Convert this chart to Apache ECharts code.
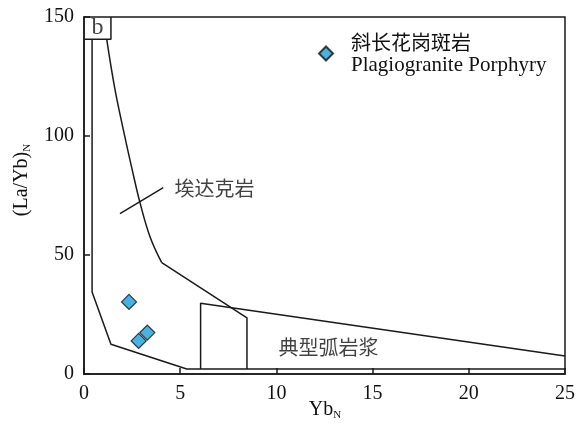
<!DOCTYPE html>
<html>
<head>
<meta charset="utf-8">
<script src="https://cdn.jsdelivr.net/npm/echarts@6/dist/echarts.min.js"></script>
<style>html,body{margin:0;padding:0;background:#fff}#c{width:581px;height:426px}</style>
</head>
<body>
<div id="c"></div>
<script>
// Sample data: Yb_N, (La/Yb)_N
var sampleName = '斜长花岗斑岩';
var sampleNameEn = 'Plagiogranite Porphyry';
var samples = [[2.34, 30.3], [2.84, 13.9], [3.29, 17.4]];

// Field boundaries (data coordinates)
var adakiteOuter = [[0.42, 140.7], [0.42, 34.5], [1.40, 12.5], [5.34, 2.1], [25, 2.1]];
var adakiteCurve = [[1.18, 140.7], [1.6, 120], [2.04, 102.8], [2.5, 86], [2.91, 72], [3.43, 57.7], [4.04, 46.8]];
var adakiteLower = [[4.04, 46.8], [8.47, 23.6], [8.47, 2.1]];
var arcField = [[6.06, 2.1], [6.06, 29.7], [25, 7.6]];
var labelBox = [[0, 140.7], [1.4, 140.7], [1.4, 150]];
var pointerLine = [[1.87, 67.4], [4.12, 78.3]];

// Field labels
var fieldLabels = [
  { name: '埃达克岩', value: [6.78, 78.0] },
  { name: '典型弧岩浆', value: [12.71, 11.2] }
];
var panelLabel = { name: 'b', value: [0.70, 145.4] };

// Axis titles
var xTitle = '{m|Yb}{s|N}';
var yTitle = '{m|(La/Yb)}{s|N}';

var xTicks = { min: 0, max: 25, interval: 5 };
var yTicks = { min: 0, max: 150, interval: 50 };

var serif = '"Liberation Serif", "Times New Roman", serif';
var cjk = '"Noto Sans CJK SC", sans-serif';
var lineCol = '#1a1a1a';

function lineSeries(data, smooth) {
  return {
    type: 'line', data: data, symbol: 'none', silent: true, smooth: smooth || false,
    lineStyle: { color: lineCol, width: 1.5 }, z: 2, animation: false
  };
}
var titleRich = {
  m: { fontFamily: serif, fontSize: 20, fill: '#111' },
  s: { fontFamily: serif, fontSize: 11, fill: '#111', verticalAlign: 'bottom', padding: [10, 0, 0, 0] }
};

var chart = echarts.init(document.getElementById('c'), null, { renderer: 'canvas' });
chart.setOption({
  animation: false,
  backgroundColor: '#fff',
  grid: {
    left: 84, right: 16, top: 17, bottom: 52, containLabel: false, outerBoundsMode: 'none',
    show: true, borderColor: lineCol, borderWidth: 1.5, backgroundColor: 'transparent'
  },
  xAxis: {
    type: 'value', min: xTicks.min, max: xTicks.max, interval: xTicks.interval,
    axisLine: { lineStyle: { color: lineCol, width: 1.5 } },
    axisTick: { inside: true, length: 6, lineStyle: { color: lineCol, width: 1.5 } },
    axisLabel: { color: '#111', fontFamily: serif, fontSize: 20, margin: 10 },
    splitLine: { show: false }
  },
  yAxis: {
    type: 'value', min: yTicks.min, max: yTicks.max, interval: yTicks.interval,
    axisLine: { lineStyle: { color: lineCol, width: 1.5 } },
    axisTick: { inside: true, length: 6, lineStyle: { color: lineCol, width: 1.5 } },
    axisLabel: { color: '#111', fontFamily: serif, fontSize: 20, margin: 10 },
    splitLine: { show: false }
  },
  legend: {
    left: 313, top: 27, orient: 'vertical',
    itemWidth: 14, itemHeight: 14, itemGap: 10,
    data: [{ name: sampleName, icon: 'diamond' }],
    formatter: function (n) { return '{a|' + n + '}\n{b|' + sampleNameEn + '}'; },
    textStyle: {
      rich: {
        a: { fontFamily: cjk, fontSize: 20, color: '#111', lineHeight: 23, padding: [0, 0, 0, 13] },
        b: { fontFamily: serif, fontSize: 21, color: '#111', lineHeight: 23, padding: [0, 0, 0, 13] }
      }
    }
  },
  graphic: [{
    type: 'text', rotation: Math.PI / 2, x: 22, y: 180,
    style: { text: yTitle, align: 'center', verticalAlign: 'middle', rich: titleRich }
  }, {
    type: 'text', x: 325, y: 410,
    style: { text: xTitle, align: 'center', verticalAlign: 'middle', rich: titleRich }
  }],
  series: [
    lineSeries(adakiteOuter),
    lineSeries(adakiteCurve, 0.4),
    lineSeries(adakiteLower),
    lineSeries(arcField),
    lineSeries(labelBox),
    lineSeries(pointerLine),
    {
      type: 'scatter', data: fieldLabels, symbolSize: 1, silent: true,
      itemStyle: { color: 'transparent' },
      label: { show: true, position: 'inside', formatter: '{b}', fontFamily: cjk, fontSize: 20, color: '#111' }
    },
    {
      type: 'scatter', data: [panelLabel], symbolSize: 1, silent: true,
      itemStyle: { color: 'transparent' },
      label: { show: true, position: 'inside', formatter: '{b}', fontFamily: serif, fontSize: 24, color: '#111' }
    },
    {
      name: sampleName, type: 'scatter', data: samples, symbol: 'diamond', symbolSize: 15, z: 5,
      itemStyle: { color: '#1a9fdb', borderColor: '#111', borderWidth: 1.2 }
    }
  ]
});
</script>
</body>
</html>
